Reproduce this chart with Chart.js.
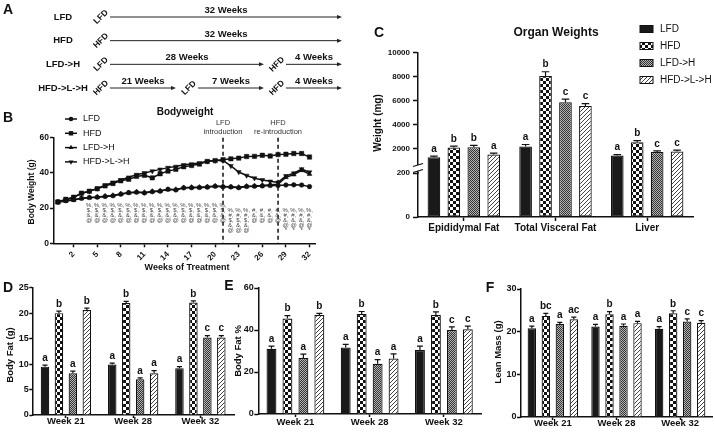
<!DOCTYPE html>
<html>
<head>
<meta charset="utf-8">
<script src="https://cdn.jsdelivr.net/npm/chart.js@4.4.1/dist/chart.umd.min.js"></script>
<style>
  html, body { margin: 0; padding: 0; background: #fff; }
  #page { position: relative; width: 715px; height: 436px; overflow: hidden; }
  canvas { position: absolute; }
</style>
</head>
<body>
<div id="page">
  <canvas id="panelA" width="360" height="100" style="left:0px;top:0px"></canvas>
  <canvas id="panelB" width="360" height="170" style="left:0px;top:105px"></canvas>
  <canvas id="panelC" width="355" height="240" style="left:360px;top:0px"></canvas>
  <canvas id="panelD" width="235" height="161" style="left:0px;top:275px"></canvas>
  <canvas id="panelE" width="261" height="161" style="left:222px;top:275px"></canvas>
  <canvas id="panelF" width="240" height="161" style="left:475px;top:275px"></canvas>
</div>
<script>
const FONT = "'Liberation Sans', Arial, Helvetica, sans-serif";
Chart.defaults.font.family = FONT;
Chart.defaults.color = '#111';

const groups = ['LFD', 'HFD', 'LFD->H', 'HFD->L->H'];

// A - study design
const designRows = ['LFD', 'HFD', 'LFD->H', 'HFD->L->H'];
const designDiets = [['LFD'], ['HFD'], ['LFD', 'HFD'], ['HFD', 'LFD', 'HFD']];
const designWeeks = [[32], [32], [28, 4], [21, 7, 4]];
const switchWeeks = [0, 21, 28, 32];

// B - bodyweight
const weeks = [0, 1, 2, 3, 4, 5, 6, 7, 8, 9, 10, 11, 12, 13, 14, 15, 16, 17, 18, 19, 20, 21, 22, 23, 24, 25, 26, 27, 28, 29, 30, 31, 32];
const bwLFD = [23.5, 24.2, 24.8, 25.6, 26.0, 26.2, 26.6, 27.0, 27.9, 28.8, 29.0, 28.6, 29.3, 29.6, 30.7, 30.3, 31.5, 31.6, 31.7, 31.9, 32.4, 32.1, 32.0, 31.6, 32.3, 32.4, 32.6, 32.8, 32.8, 33.1, 33.2, 33.1, 32.2];
const bwHFD = [23.5, 25.0, 26.2, 28.5, 29.6, 31.0, 32.6, 34.0, 35.5, 36.4, 38.0, 38.6, 37.2, 39.5, 41.0, 42.0, 43.5, 44.2, 45.0, 46.5, 47.0, 47.5, 48.0, 48.4, 49.3, 49.4, 50.0, 49.6, 50.4, 50.6, 51.0, 51.0, 49.0];
const bwLFDH = [23.4, 24.0, 24.6, 25.4, 25.9, 26.3, 26.8, 27.2, 28.1, 28.6, 29.2, 28.9, 29.5, 29.8, 30.5, 30.6, 31.6, 31.8, 31.8, 32.1, 32.5, 32.3, 32.1, 31.8, 32.4, 32.6, 32.9, 33.2, 33.6, 37.5, 39.0, 41.5, 39.3];
const bwHFDLH = [23.6, 24.6, 26.2, 28.3, 29.6, 31.2, 33.0, 34.6, 36.0, 37.5, 39.0, 40.0, 41.0, 42.0, 43.0, 43.6, 44.6, 45.0, 45.6, 46.6, 47.0, 47.0, 44.0, 40.5, 38.5, 37.0, 36.0, 35.2, 34.6, 38.3, 39.8, 42.2, 40.4];
const weekTicks = [2, 5, 8, 11, 14, 17, 20, 23, 26, 29, 32];
const bwTicks = [0, 20, 40, 60];
const dietSwitch = [21, 28];
const dietSwitchText = [['LFD', 'introduction'], ['HFD', 're-introduction']];
const sigFrom = [4, 22, 25, 29];
const sigTo = [21, 24, 28, 32];
const sigMarks = [['%,', '$,', '&,', '@'], ['%,', '#,', '$,', '&,', '@'], ['#,', '&,', '@'], ['%,', '#,', '&,', '@', '*']];
const sigTop = [21.4, 18.5, 18.5, 18.5];

// C - organ weights
const organs = ['Epididymal Fat', 'Total Visceral Fat', 'Liver'];
const organLFD = [1310, 2190, 1450];
const organHFD = [2110, 8040, 2550];
const organLFDH = [2140, 5860, 1730];
const organHFDLH = [1530, 5560, 1780];
const organErrLFD = [90, 170, 80];
const organErrHFD = [120, 350, 130];
const organErrLFDH = [150, 260, 100];
const organErrHFDLH = [110, 180, 110];
const organSig = [['a', 'a', 'a'], ['b', 'b', 'b'], ['b', 'c', 'c'], ['a', 'c', 'c']];
const organLowTicks = [0, 200];
const organHighTicks = [2000, 4000, 6000, 8000, 10000];

// D/E/F - body composition
const bodyCompWeeks = ['Week 21', 'Week 28', 'Week 32'];
const fatLFD = [9.5, 9.9, 9.2];
const fatHFD = [20.0, 22.0, 22.1];
const fatLFDH = [8.2, 7.0, 15.2];
const fatHFDLH = [20.6, 8.2, 15.2];
const fatErr = [[0.3, 0.3, 0.3], [0.4, 0.3, 0.3], [0.4, 0.3, 0.4], [0.4, 0.5, 0.4]];
const fatTicks = [0, 5, 10, 15, 20, 25];
const pctLFD = [31.1, 31.7, 30.5];
const pctHFD = [45.5, 47.6, 47.1];
const pctLFDH = [26.7, 23.9, 40.0];
const pctHFDLH = [47.1, 26.4, 40.3];
const pctErr = [[1.2, 1.5, 1.8], [1.3, 1.2, 1.5], [1.8, 2.0, 1.5], [0.8, 2.2, 1.5]];
const pctTicks = [0, 20, 40, 60];
const leanLFD = [20.8, 21.2, 20.7];
const leanHFD = [23.7, 24.1, 24.3];
const leanLFDH = [21.8, 21.4, 22.4];
const leanHFDLH = [22.9, 22.0, 22.1];
const leanErr = [[0.5, 0.5, 0.5], [0.6, 0.6, 0.6], [0.4, 0.4, 0.6], [0.5, 0.4, 0.5]];
const leanTicks = [0, 10, 20, 30];
const fatSig = [['a', 'a', 'a'], ['b', 'b', 'b'], ['a', 'a', 'c'], ['b', 'a', 'c']];
const leanSig = [['a', 'a', 'a'], ['bc', 'b', 'b'], ['a', 'a', 'c'], ['ac', 'a', 'c']];

// fills for the four groups
function makePattern(kind) {
  const c = document.createElement('canvas');
  const g = c.getContext('2d');
  if (kind === 'check') {
    c.width = c.height = 6;
    g.fillStyle = '#fff'; g.fillRect(0, 0, 6, 6);
    g.fillStyle = '#111'; g.fillRect(0, 0, 3, 3); g.fillRect(3, 3, 3, 3);
  } else if (kind === 'dots') {
    c.width = c.height = 2;
    g.fillStyle = '#b4b4b4'; g.fillRect(0, 0, 2, 2);
    g.fillStyle = '#333'; g.fillRect(0, 0, 1, 1); g.fillRect(1, 1, 1, 1);
  } else {
    c.width = c.height = 4;
    g.fillStyle = '#fff'; g.fillRect(0, 0, 4, 4);
    g.strokeStyle = '#444'; g.lineWidth = 1;
    g.beginPath(); g.moveTo(-1, 5); g.lineTo(5, -1); g.stroke();
  }
  return g.createPattern(c, 'repeat');
}
const groupFill = ['#1a1a1a', makePattern('check'), makePattern('dots'), makePattern('hatch')];

function drawText(ctx, t) {
  ctx.save();
  ctx.font = t.font;
  ctx.fillStyle = t.color || '#111';
  ctx.textAlign = t.align || 'center';
  ctx.textBaseline = 'middle';
  ctx.translate(t.x, t.y);
  if (t.rotate) ctx.rotate(t.rotate * Math.PI / 180);
  ctx.fillText(t.text, 0, 0);
  ctx.restore();
}

function drawMarker(ctx, style, rot, x, y, r) {
  ctx.beginPath();
  if (style === 'circle') {
    ctx.arc(x, y, r, 0, Math.PI * 2);
  } else if (style === 'rect') {
    const s = r * Math.SQRT1_2;
    ctx.rect(x - s, y - s, 2 * s, 2 * s);
  } else {
    const d = rot === 180 ? -1 : 1;
    ctx.moveTo(x, y - d * r);
    ctx.lineTo(x + r * 0.87, y + d * r * 0.5);
    ctx.lineTo(x - r * 0.87, y + d * r * 0.5);
    ctx.closePath();
  }
  ctx.fill();
}

function textPlugin(items) {
  return { id: 'panelText', afterDraw(chart) { items.forEach(t => drawText(chart.ctx, t)); } };
}

function errorBarPlugin(font, gap) {
  return {
    id: 'errorBars',
    afterDatasetsDraw(chart) {
      const ctx = chart.ctx;
      chart.data.datasets.forEach((ds, di) => {
        if (!ds.errors) return;
        const meta = chart.getDatasetMeta(di);
        const scale = chart.scales[meta.yAxisID];
        meta.data.forEach((bar, i) => {
          const top = scale.getPixelForValue(ds.data[i] + ds.errors[i]);
          const half = bar.width * 0.3;
          ctx.save();
          ctx.strokeStyle = '#111';
          ctx.lineWidth = 1.2;
          ctx.beginPath();
          ctx.moveTo(bar.x, bar.y); ctx.lineTo(bar.x, top);
          ctx.moveTo(bar.x - half, top); ctx.lineTo(bar.x + half, top);
          ctx.stroke();
          ctx.font = font;
          ctx.fillStyle = '#111';
          ctx.textAlign = 'center';
          ctx.textBaseline = 'bottom';
          ctx.fillText(ds.letters[i], bar.x, top - gap);
          ctx.restore();
        });
      });
    }
  };
}

function axisStyle(tickLen, pad, size, extra) {
  return {
    border: { display: true, color: '#111', width: 1.5 },
    grid: { drawOnChartArea: false, drawTicks: true, tickLength: tickLen, tickColor: '#111', tickWidth: 1.5, offset: false },
    ticks: Object.assign({ color: '#111', padding: pad, autoSkip: false, font: { weight: 'bold', size: size, lineHeight: 1 } }, extra || {})
  };
}

const plainNumber = v => String(v);

const baseOptions = {
  animation: false,
  responsive: false,
  events: [],
  plugins: { legend: { display: false }, tooltip: { enabled: false } }
};

// ---------- A ----------
const designPlugin = {
  id: 'design',
  afterDraw(chart) {
    const { ctx, scales: { x, y } } = chart;
    designRows.forEach((row, r) => {
      const py = y.getPixelForValue(r);
      drawText(ctx, { text: row, x: 63, y: py, font: `bold 9.5px ${FONT}` });
      let start = 0;
      designDiets[r].forEach((diet, k) => {
        const end = start + designWeeks[r][k];
        const x0 = x.getPixelForValue(switchWeeks.indexOf(start));
        const x1 = x.getPixelForValue(switchWeeks.indexOf(end));
        drawText(ctx, { text: diet, x: x0 + 9, y: py, rotate: -45, font: `bold 8.5px ${FONT}` });
        const a = x0 + 18;
        const b = x1 - (end === switchWeeks[switchWeeks.length - 1] ? 14 : 4);
        ctx.save();
        ctx.strokeStyle = '#222'; ctx.fillStyle = '#222'; ctx.lineWidth = 1;
        ctx.beginPath(); ctx.moveTo(a, py); ctx.lineTo(b - 3, py); ctx.stroke();
        ctx.beginPath(); ctx.moveTo(b, py); ctx.lineTo(b - 5, py - 2); ctx.lineTo(b - 5, py + 2); ctx.closePath(); ctx.fill();
        ctx.restore();
        drawText(ctx, { text: designWeeks[r][k] + ' Weeks', x: (a + b) / 2, y: py - 6.5, font: `bold 9.5px ${FONT}` });
        start = end;
      });
    });
  }
};

new Chart(document.getElementById('panelA'), {
  type: 'scatter',
  data: { datasets: [] },
  options: Object.assign({}, baseOptions, {
    layout: { padding: { left: 92, right: 4, top: 17, bottom: 12 } },
    scales: {
      x: { type: 'linear', min: 0, max: switchWeeks.length - 1, display: false },
      y: { type: 'linear', min: 0, max: designRows.length - 1, reverse: true, display: false }
    }
  }),
  plugins: [designPlugin, textPlugin([{ text: 'A', x: 8, y: 10, font: `bold 14px ${FONT}` }])]
});

// ---------- B ----------
const bwSeries = [bwLFD, bwHFD, bwLFDH, bwHFDLH];
const bwMarkers = ['circle', 'rect', 'triangle', 'triangle'];
const bwMarkerRotation = [0, 0, 0, 180];
const bwMarkerSize = [2.3, 3.1, 2.8, 2.8];

const bwExtras = {
  id: 'bwExtras',
  afterDatasetsDraw(chart) {
    const { ctx, chartArea: area, scales: { x, y } } = chart;
    ctx.save();
    ctx.strokeStyle = '#111'; ctx.lineWidth = 1.5; ctx.setLineDash([4, 3]);
    dietSwitch.forEach(w => {
      const px = x.getPixelForValue(w);
      ctx.beginPath(); ctx.moveTo(px, area.top); ctx.lineTo(px, area.bottom); ctx.stroke();
    });
    ctx.restore();
    dietSwitch.forEach((w, i) => {
      const px = x.getPixelForValue(w);
      dietSwitchText[i].forEach((t, k) => drawText(ctx, { text: t, x: px, y: area.top - 14.5 + k * 9, font: `7.5px ${FONT}`, color: '#333' }));
    });
    sigFrom.forEach((from, b) => {
      const py = y.getPixelForValue(sigTop[b]);
      for (let w = from; w <= sigTo[b]; w++) {
        const px = x.getPixelForValue(w);
        sigMarks[b].forEach((m, k) => drawText(ctx, { text: m, x: px, y: py + k * 5, font: `6px ${FONT}`, color: '#444' }));
      }
    });
    chart.data.datasets.forEach((ds, i) => {
      const ly = 14 + i * 14.3;
      ctx.save();
      ctx.strokeStyle = '#111'; ctx.fillStyle = '#111'; ctx.lineWidth = 1.5;
      ctx.beginPath(); ctx.moveTo(65, ly); ctx.lineTo(77, ly); ctx.stroke();
      drawMarker(ctx, ds.pointStyle, ds.pointRotation, 71, ly, ds.pointRadius);
      ctx.restore();
      drawText(ctx, { text: ds.label, x: 83, y: ly, font: `9px ${FONT}`, align: 'left' });
    });
  }
};

new Chart(document.getElementById('panelB'), {
  type: 'line',
  data: {
    datasets: groups.map((g, i) => ({
      label: g,
      data: weeks.map((w, j) => ({ x: w, y: bwSeries[i][j] })),
      borderColor: '#111',
      backgroundColor: '#111',
      borderWidth: 1.5,
      pointStyle: bwMarkers[i],
      pointRotation: bwMarkerRotation[i],
      pointRadius: bwMarkerSize[i],
      pointBorderWidth: 0.5,
      tension: 0
    }))
  },
  options: Object.assign({}, baseOptions, {
    layout: { padding: { left: 0, right: 45, top: 32.7, bottom: 0 } },
    scales: {
      x: Object.assign(axisStyle(4, 3, 8, { minRotation: 45, maxRotation: 45 }), {
        type: 'linear', min: -0.5, max: 32.7,
        afterBuildTicks: s => { s.ticks = weekTicks.map(v => ({ value: v })); },
        afterFit: s => { s.height = 31.7; }
      }),
      y: Object.assign(axisStyle(4, 1, 8.5), {
        min: 0, max: 60,
        afterBuildTicks: s => { s.ticks = bwTicks.map(v => ({ value: v })); },
        afterFit: s => { s.width = 54; }
      })
    }
  }),
  plugins: [bwExtras, textPlugin([
    { text: 'B', x: 8, y: 13, font: `bold 14px ${FONT}` },
    { text: 'Bodyweight', x: 185, y: 7, font: `bold 10px ${FONT}` },
    { text: 'Body Weight (g)', x: 32, y: 87, rotate: -90, font: `bold 8.5px ${FONT}` },
    { text: 'Weeks of Treatment', x: 187, y: 163, font: `bold 9px ${FONT}` }
  ])]
});

// ---------- C ----------
const organSeries = [organLFD, organHFD, organLFDH, organHFDLH];
const organErrs = [organErrLFD, organErrHFD, organErrLFDH, organErrHFDLH];
const lowMax = organLowTicks[organLowTicks.length - 1];

const organExtras = {
  id: 'organExtras',
  afterDraw(chart) {
    const { ctx, scales } = chart;
    const ax = chart.chartArea.left;
    const by = scales.yLow.top - 5;
    ctx.save();
    ctx.fillStyle = '#fff';
    ctx.fillRect(ax - 5, by - 3, 10, 6);
    ctx.strokeStyle = '#111'; ctx.lineWidth = 1.3;
    [-3, 3].forEach(d => { ctx.beginPath(); ctx.moveTo(ax - 5, by + d + 1.5); ctx.lineTo(ax + 5, by + d - 1.5); ctx.stroke(); });
    ctx.restore();
    chart.data.datasets.filter(ds => ds.yAxisID === 'yHigh').forEach((ds, i) => {
      const ly = 29 + i * 17;
      ctx.save();
      ctx.fillStyle = ds.backgroundColor;
      ctx.fillRect(280, ly - 3.5, 13, 7);
      ctx.strokeStyle = '#111'; ctx.lineWidth = 1;
      ctx.strokeRect(280, ly - 3.5, 13, 7);
      ctx.restore();
      drawText(ctx, { text: ds.label, x: 300, y: ly, font: `10px ${FONT}`, align: 'left' });
    });
  }
};

new Chart(document.getElementById('panelC'), {
  type: 'bar',
  data: {
    labels: organs,
    datasets: groups.flatMap((g, i) => [
      {
        label: g, data: organSeries[i], yAxisID: 'yHigh', stack: g,
        backgroundColor: groupFill[i], borderColor: '#111', borderWidth: 1.2,
        barPercentage: 0.635, categoryPercentage: 0.87,
        errors: organErrs[i], letters: organSig[i]
      },
      {
        label: g, data: organSeries[i].map(v => Math.min(v, lowMax)), yAxisID: 'yLow', stack: g,
        backgroundColor: groupFill[i], borderColor: '#111', borderWidth: 1.2, borderSkipped: 'top',
        barPercentage: 0.635, categoryPercentage: 0.87
      }
    ])
  },
  options: Object.assign({}, baseOptions, {
    layout: { padding: { left: 0, right: 22, top: 52.3, bottom: 0 } },
    scales: {
      x: Object.assign(axisStyle(4, 2, 10), { afterFit: s => { s.height = 23; } }),
      yLow: Object.assign(axisStyle(5, 3, 8, { callback: plainNumber }), {
        type: 'linear', position: 'left', stack: 'organ', stackWeight: 44, weight: 0,
        min: 0, max: lowMax,
        afterBuildTicks: s => { s.ticks = organLowTicks.map(v => ({ value: v })); },
        afterFit: s => { s.width = 58; }
      }),
      yHigh: Object.assign(axisStyle(5, 3, 8, { callback: plainNumber }), {
        type: 'linear', position: 'left', stack: 'organ', stackWeight: 120.7, weight: 1,
        min: 0, max: organHighTicks[organHighTicks.length - 1],
        afterBuildTicks: s => { s.ticks = organHighTicks.map(v => ({ value: v })); },
        afterFit: s => { s.width = 58; }
      })
    }
  }),
  plugins: [errorBarPlugin(`bold 10px ${FONT}`, 2), organExtras, textPlugin([
    { text: 'C', x: 19, y: 33, font: `bold 14px ${FONT}` },
    { text: 'Organ Weights', x: 196, y: 33, font: `bold 12px ${FONT}` },
    { text: 'Weight (mg)', x: 18, y: 123, rotate: -90, font: `bold 10px ${FONT}` }
  ])]
});

// ---------- D / E / F ----------
function bodyCompChart(canvasId, cfg) {
  return new Chart(document.getElementById(canvasId), {
    type: 'bar',
    data: {
      labels: bodyCompWeeks,
      datasets: groups.map((g, i) => ({
        label: g, data: cfg.series[i], errors: cfg.errors[i], letters: cfg.letters[i],
        backgroundColor: groupFill[i], borderColor: '#111', borderWidth: 1.2,
        barPercentage: cfg.barPct, categoryPercentage: cfg.catPct
      }))
    },
    options: Object.assign({}, baseOptions, {
      layout: { padding: cfg.padding },
      scales: {
        x: Object.assign(axisStyle(3, cfg.xPad, 9.5), { afterFit: s => { s.height = cfg.xHeight; } }),
        y: Object.assign(axisStyle(cfg.tick, 0.5, 9), {
          min: 0, max: cfg.yTicks[cfg.yTicks.length - 1],
          afterBuildTicks: s => { s.ticks = cfg.yTicks.map(v => ({ value: v })); },
          afterFit: s => { s.width = cfg.yWidth; }
        })
      }
    }),
    plugins: [errorBarPlugin(`bold 10px ${FONT}`, 2), textPlugin(cfg.texts)]
  });
}

bodyCompChart('panelD', {
  series: [fatLFD, fatHFD, fatLFDH, fatHFDLH], errors: fatErr, letters: fatSig, yTicks: fatTicks,
  padding: { left: 0, right: 1, top: 12.7, bottom: 0 }, yWidth: 32.3, xHeight: 21, tick: 3, xPad: -1,
  catPct: 0.83, barPct: 0.61,
  texts: [
    { text: 'D', x: 8, y: 13, font: `bold 14px ${FONT}` },
    { text: 'Body Fat (g)', x: 10, y: 80, rotate: -90, font: `bold 9.5px ${FONT}` }
  ]
});

bodyCompChart('panelE', {
  series: [pctLFD, pctHFD, pctLFDH, pctHFDLH], errors: pctErr, letters: fatSig, yTicks: pctTicks,
  padding: { left: 0, right: 2, top: 13, bottom: 0 }, yWidth: 36.3, xHeight: 22, tick: 4, xPad: 1,
  catPct: 0.86, barPct: 0.62,
  texts: [
    { text: 'E', x: 7, y: 11, font: `bold 14px ${FONT}` },
    { text: 'Body Fat %', x: 16.3, y: 76, rotate: -90, font: `bold 9.5px ${FONT}` }
  ]
});

bodyCompChart('panelF', {
  series: [leanLFD, leanHFD, leanLFDH, leanHFDLH], errors: leanErr, letters: leanSig, yTicks: leanTicks,
  padding: { left: 0, right: 3, top: 14, bottom: 0 }, yWidth: 46, xHeight: 19, tick: 4, xPad: -1.5,
  catPct: 0.88, barPct: 0.6,
  texts: [
    { text: 'F', x: 15, y: 13, font: `bold 14px ${FONT}` },
    { text: 'Lean Mass (g)', x: 23, y: 77, rotate: -90, font: `bold 9.5px ${FONT}` }
  ]
});
</script>
</body>
</html>
